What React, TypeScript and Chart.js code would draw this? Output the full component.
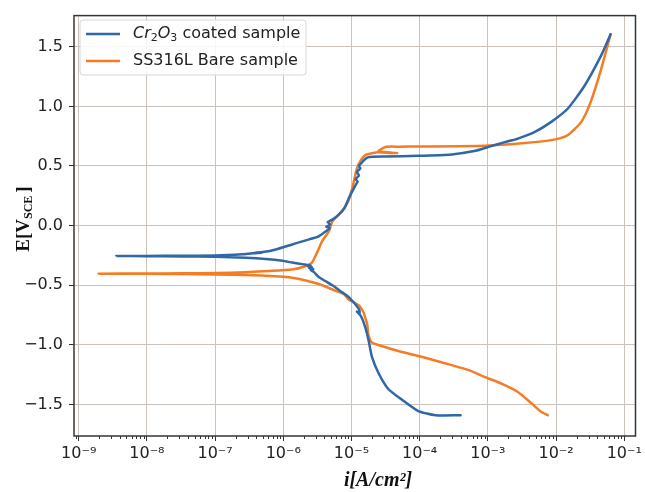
import React, { useEffect, useRef } from "react";
import { Chart, registerables } from "chart.js";

Chart.register(...registerables);

// ---- Data ----
const seriesNames = ["Cr₂O₃ coated sample", "SS316L Bare sample"];
const seriesColors = ["#2f67a8", "#f57c22"];

// Cr2O3 coated sample: log10(i [A/cm²]) and E [V_SCE], drawn in scan order
const coatedLogCurrent = [
  -3.40, -3.77, -4.02, -4.26, -4.46, -4.60, -4.70, -4.75, -4.80, -4.86, -4.92, -4.88, -4.89,
  -5.04, -5.16, -5.28, -5.48, -5.55, -5.60, -5.56, -5.62, -5.58, -5.64, -5.60, -5.70, -5.87,
  -6.01, -6.26, -6.55, -7.00, -7.50, -8.00, -8.45, -8.00, -7.50, -7.00, -6.60, -6.45, -6.32,
  -6.42, -6.30, -6.11, -5.87, -5.77, -5.62, -5.48, -5.38, -5.32, -5.37, -5.31, -5.35, -5.28,
  -5.19, -5.10, -5.04, -4.94, -4.91, -4.94, -4.89, -4.92, -4.87, -4.89, -4.83, -4.77, -4.70,
  -4.50, -4.02, -3.53, -3.20, -2.99, -2.75, -2.56, -2.31, -2.07, -1.83, -1.58, -1.34, -1.20,
];
const coatedPotential = [
  -1.59, -1.59, -1.555, -1.46, -1.37, -1.24, -1.10, -0.96, -0.85, -0.76, -0.72, -0.735, -0.70,
  -0.60, -0.55, -0.50, -0.43, -0.39, -0.37, -0.365, -0.355, -0.35, -0.34, -0.335, -0.325, -0.31,
  -0.295, -0.28, -0.27, -0.262, -0.258, -0.256, -0.255, -0.254, -0.253, -0.25, -0.24, -0.232, -0.228,
  -0.228, -0.222, -0.20, -0.158, -0.14, -0.115, -0.09, -0.05, -0.02, -0.01, 0.01, 0.03, 0.05,
  0.09, 0.15, 0.23, 0.34, 0.37, 0.39, 0.42, 0.45, 0.48, 0.50, 0.54, 0.57, 0.578,
  0.58, 0.585, 0.597, 0.625, 0.66, 0.70, 0.73, 0.786, 0.87, 0.98, 1.175, 1.425, 1.605,
];

// SS316L bare sample
const bareLogCurrent = [
  -2.12, -2.22, -2.36, -2.56, -2.80, -3.04, -3.29, -3.53, -3.97, -4.26, -4.50, -4.70, -4.75,
  -4.77, -4.80, -4.82, -4.85, -4.89, -5.04, -5.11, -5.23, -5.48, -5.87, -6.26,
  -6.55, -7.00, -7.50, -8.00, -8.71, -8.00, -7.50, -7.00, -6.55, -6.20, -5.87, -5.70, -5.58,
  -5.50, -5.43, -5.33, -5.28, -5.14, -5.05, -4.99, -4.92, -4.86, -4.80, -4.75, -4.62, -4.33,
  -4.60, -4.50, -4.30, -4.00, -3.04, -2.50, -2.07, -1.83, -1.63, -1.49, -1.34, -1.20,
];
const barePotential = [
  -1.59, -1.56, -1.49, -1.395, -1.325, -1.27, -1.21, -1.17, -1.10, -1.06, -1.02, -0.98, -0.92,
  -0.825, -0.77, -0.73, -0.70, -0.67, -0.62, -0.575, -0.547, -0.49, -0.437, -0.42,
  -0.415, -0.41, -0.406, -0.404, -0.403, -0.402, -0.40, -0.398, -0.39, -0.38, -0.367, -0.345, -0.31,
  -0.22, -0.13, -0.047, 0.036, 0.12, 0.20, 0.31, 0.48, 0.55, 0.59, 0.60, 0.615, 0.607,
  0.625, 0.66, 0.662, 0.663, 0.67, 0.69, 0.717, 0.758, 0.87, 1.04, 1.31, 1.605,
];

const xDecades = [-9, -8, -7, -6, -5, -4, -3, -2, -1];
const yTicks = [-1.5, -1.0, -0.5, 0.0, 0.5, 1.0, 1.5];
const xLogMin = -9.069;
const xLogMax = -0.835;
const yMin = -1.764;
const yMax = 1.761;

const xTitle = "i[A/cm²]";
const yTitleMain = "E[V";
const yTitleSub = "SCE";
const yTitleEnd = "]";

const SUP: Record<string, string> = {
  "-": "⁻", "0": "⁰", "1": "¹", "2": "²", "3": "³", "4": "⁴", "5": "⁵", "6": "⁶", "7": "⁷", "8": "⁸", "9": "⁹",
};
const SUB_TO_DIGIT: Record<string, string> = {
  "₀": "0", "₁": "1", "₂": "2", "₃": "3", "₄": "4", "₅": "5", "₆": "6", "₇": "7", "₈": "8", "₉": "9",
};
const toSup = (s: string) => s.split("").map((c) => SUP[c] ?? c).join("");

function toPoints(logI: number[], e: number[]) {
  return logI.map((l, k) => ({ x: Math.pow(10, l), y: e[k] }));
}

const framePlugin = {
  id: "frameAndExtras",
  afterDraw(chart: any) {
    const { ctx, chartArea: a, scales } = chart;
    ctx.save();
    // minor x ticks
    ctx.strokeStyle = "#333";
    ctx.lineWidth = 1;
    for (let k = -10; k <= 0; k++) {
      for (let m = 2; m <= 9; m++) {
        const px = scales.x.getPixelForValue(m * Math.pow(10, k));
        if (px < a.left || px > a.right) continue;
        ctx.beginPath();
        ctx.moveTo(Math.round(px) + 0.5, a.bottom);
        ctx.lineTo(Math.round(px) + 0.5, a.bottom + 3);
        ctx.stroke();
      }
    }
    // spines
    ctx.strokeStyle = "#3a3431";
    ctx.lineWidth = 1.5;
    ctx.strokeRect(a.left, a.top, a.right - a.left, a.bottom - a.top);

    // legend
    const lx = 80, ly = 20, lw = 226, lh = 55, r = 3;
    ctx.beginPath();
    ctx.moveTo(lx + r, ly);
    ctx.arcTo(lx + lw, ly, lx + lw, ly + lh, r);
    ctx.arcTo(lx + lw, ly + lh, lx, ly + lh, r);
    ctx.arcTo(lx, ly + lh, lx, ly, r);
    ctx.arcTo(lx, ly, lx + lw, ly, r);
    ctx.closePath();
    ctx.fillStyle = "rgba(255,255,255,0.85)";
    ctx.fill();
    ctx.strokeStyle = "#d6d6d6";
    ctx.lineWidth = 1;
    ctx.stroke();
    const rows = [34, 61];
    chart.data.datasets.forEach((ds: any, idx: number) => {
      const y = rows[idx];
      ctx.strokeStyle = ds.borderColor;
      ctx.lineWidth = 2.5;
      ctx.beginPath();
      ctx.moveTo(86, y);
      ctx.lineTo(120, y);
      ctx.stroke();
      ctx.fillStyle = "#222";
      ctx.textBaseline = "middle";
      ctx.textAlign = "left";
      const label: string = ds.label;
      let x = 133;
      const m = label.match(/^(\S*[₀-₉]\S*)(.*)$/);
      if (m) {
        // chemical formula: italic letters with real subscript digits
        for (const ch of m[1]) {
          if (SUB_TO_DIGIT[ch]) {
            ctx.font = "11px 'DejaVu Sans'";
            ctx.fillText(SUB_TO_DIGIT[ch], x, y + 4);
            x += ctx.measureText(SUB_TO_DIGIT[ch]).width;
          } else {
            ctx.font = "italic 16px 'DejaVu Sans'";
            ctx.fillText(ch, x, y);
            x += ctx.measureText(ch).width;
          }
        }
        ctx.font = "16px 'DejaVu Sans'";
        ctx.fillText(m[2], x, y);
      } else {
        ctx.font = "16px 'DejaVu Sans'";
        ctx.fillText(label, x, y);
      }
    });

    // y title
    ctx.save();
    ctx.translate(29, 219);
    ctx.rotate(-Math.PI / 2);
    ctx.fillStyle = "#111";
    ctx.textBaseline = "alphabetic";
    const f1 = "bold 19px 'Liberation Serif'";
    const f2 = "bold 12px 'Liberation Serif'";
    ctx.font = f1;
    const w1 = ctx.measureText(yTitleMain).width;
    const w3 = ctx.measureText(yTitleEnd).width;
    ctx.font = f2;
    const w2 = ctx.measureText(yTitleSub).width;
    const total = w1 + w2 + 3 + w3;
    let tx = -total / 2;
    ctx.font = f1;
    ctx.fillText(yTitleMain, tx, 0);
    tx += w1;
    ctx.font = f2;
    ctx.fillText(yTitleSub, tx, 3);
    tx += w2 + 3;
    ctx.font = f1;
    ctx.fillText(yTitleEnd, tx, 0);
    ctx.restore();

    // x title
    ctx.fillStyle = "#111";
    ctx.font = "italic bold 20px 'Liberation Serif'";
    ctx.textAlign = "center";
    ctx.textBaseline = "middle";
    ctx.fillText(xTitle, 378, 481);
    ctx.restore();
  },
};

export default function App() {
  const ref = useRef<HTMLCanvasElement>(null);
  useEffect(() => {
    if (!ref.current) return;
    const common = { showLine: true, pointRadius: 0, borderWidth: 2.5, tension: 0.2, borderJoinStyle: "round", borderCapStyle: "round" };
    const chart = new Chart(ref.current, {
      type: "scatter",
      data: {
        datasets: [
          {
            label: seriesNames[0],
            data: toPoints(coatedLogCurrent, coatedPotential),
            borderColor: seriesColors[0],
            backgroundColor: seriesColors[0],
            ...common,
          },
          {
            label: seriesNames[1],
            data: toPoints(bareLogCurrent, barePotential),
            borderColor: seriesColors[1],
            backgroundColor: seriesColors[1],
            ...common,
          },
        ],
      },
      options: {
        animation: false,
        responsive: false,
        devicePixelRatio: 1,
        layout: { padding: { top: 13, right: 7, left: 0, bottom: 0 } },
        plugins: { legend: { display: false }, tooltip: { enabled: false } },
        scales: {
          x: {
            type: "logarithmic",
            min: Math.pow(10, xLogMin),
            max: Math.pow(10, xLogMax),
            afterBuildTicks: (scale: any) => {
              scale.ticks = xDecades.map((d) => ({ value: Math.pow(10, d), major: true }));
            },
            afterFit: (scale: any) => {
              scale.height = 56;
            },
            border: { display: false },
            grid: { color: "#ccc2bc", lineWidth: 1, tickLength: 5, tickColor: "#333", drawTicks: true },
            ticks: {
              autoSkip: false,
              maxRotation: 0,
              padding: 3,
              color: "#222",
              font: { family: "'DejaVu Sans'", size: 16 },
              callback: (v: any) => "10" + toSup(String(Math.round(Math.log10(Number(v))))),
            },
          },
          y: {
            type: "linear",
            min: yMin,
            max: yMax,
            afterBuildTicks: (scale: any) => {
              scale.ticks = yTicks.map((v) => ({ value: v }));
            },
            afterFit: (scale: any) => {
              scale.width = 74;
            },
            border: { display: false },
            grid: { color: "#ccc2bc", lineWidth: 1, tickLength: 5, tickColor: "#333", drawTicks: true },
            ticks: {
              padding: 6,
              color: "#222",
              font: { family: "'DejaVu Sans'", size: 16 },
              callback: (v: any) => Number(v).toFixed(1).replace("-", "−"),
            },
          },
        },
      },
      plugins: [framePlugin],
    } as any);
    return () => chart.destroy();
  }, []);
  return (
    <div style={{ position: "absolute", left: 0, top: 0, width: 645, height: 492, background: "#fff" }}>
      <canvas ref={ref} width={645} height={492} />
    </div>
  );
}
